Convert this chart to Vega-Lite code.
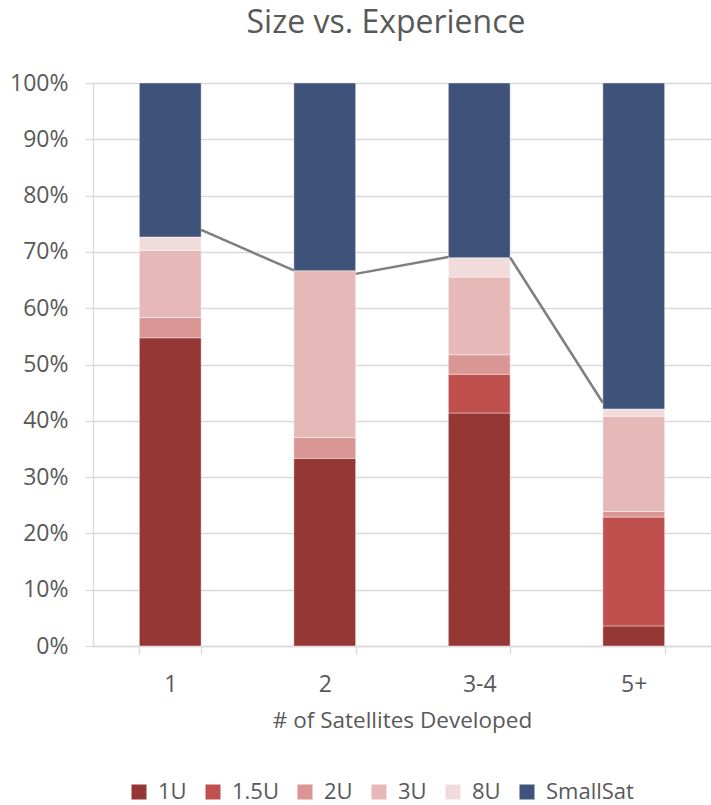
{
  "$schema": "https://vega.github.io/schema/vega-lite/v6.json",
  "autosize": {"type": "none"},
  "padding": {"left": 93, "top": 83, "right": 0, "bottom": 159},
  "width": 618,
  "height": 563,
  "title": {
    "text": "Size vs. Experience",
    "font": "Open Sans",
    "fontSize": 32,
    "fontWeight": "normal",
    "color": "#595959",
    "anchor": "middle",
    "frame": "group",
    "dx": -16,
    "offset": 32
  },
  "datasets": {
    "shares": [
      {"group": "1", "size": "1U", "tier": 1, "share": 0.5475},
      {"group": "1", "size": "2U", "tier": 3, "share": 0.036},
      {"group": "1", "size": "3U", "tier": 4, "share": 0.119},
      {"group": "1", "size": "8U", "tier": 5, "share": 0.024},
      {"group": "1", "size": "SmallSat", "tier": 6, "share": 0.2735},
      {"group": "2", "size": "1U", "tier": 1, "share": 0.3333},
      {"group": "2", "size": "2U", "tier": 3, "share": 0.037},
      {"group": "2", "size": "3U", "tier": 4, "share": 0.2963},
      {"group": "2", "size": "SmallSat", "tier": 6, "share": 0.3334},
      {"group": "3-4", "size": "1U", "tier": 1, "share": 0.4138},
      {"group": "3-4", "size": "1.5U", "tier": 2, "share": 0.069},
      {"group": "3-4", "size": "2U", "tier": 3, "share": 0.0345},
      {"group": "3-4", "size": "3U", "tier": 4, "share": 0.1379},
      {"group": "3-4", "size": "8U", "tier": 5, "share": 0.0345},
      {"group": "3-4", "size": "SmallSat", "tier": 6, "share": 0.3103},
      {"group": "5+", "size": "1U", "tier": 1, "share": 0.0357},
      {"group": "5+", "size": "1.5U", "tier": 2, "share": 0.1933},
      {"group": "5+", "size": "2U", "tier": 3, "share": 0.01},
      {"group": "5+", "size": "3U", "tier": 4, "share": 0.169},
      {"group": "5+", "size": "8U", "tier": 5, "share": 0.013},
      {"group": "5+", "size": "SmallSat", "tier": 6, "share": 0.579}
    ],
    "connectors": [
      {"from": "1", "to": "2", "startShare": 0.739, "endShare": 0.667},
      {"from": "2", "to": "3-4", "startShare": 0.661, "endShare": 0.691},
      {"from": "3-4", "to": "5+", "startShare": 0.69, "endShare": 0.432}
    ]
  },
  "config": {
    "font": "Open Sans",
    "view": {"stroke": null},
    "axis": {
      "labelFont": "Open Sans",
      "titleFont": "Open Sans",
      "labelColor": "#595959",
      "titleColor": "#595959",
      "domainColor": "#D9D9D9",
      "tickColor": "#D9D9D9",
      "gridColor": "#D9D9D9",
      "domainWidth": 1.3,
      "tickWidth": 1.3,
      "gridWidth": 1.3
    },
    "legend": {
      "labelFont": "Open Sans",
      "labelColor": "#595959"
    }
  },
  "layer": [
    {
      "data": {"name": "shares"},
      "mark": {"type": "bar", "stroke": "#ffffff", "strokeWidth": 0.7, "strokeOpacity": 0.6},
      "encoding": {
        "x": {
          "field": "group",
          "type": "nominal",
          "sort": ["1", "2", "3-4", "5+"],
          "scale": {"paddingInner": 0.6, "paddingOuter": 0.3},
          "axis": {
            "title": "# of Satellites Developed",
            "titleFontSize": 22.5,
            "titleFontWeight": "normal",
            "titleBaseline": "alphabetic",
            "titleY": 81,
            "labelAngle": 0,
            "labelFontSize": 23,
            "labelBaseline": "alphabetic",
            "labelPadding": 37,
            "tickSize": 8,
            "tickBand": "extent"
          }
        },
        "y": {
          "field": "share",
          "type": "quantitative",
          "stack": "zero",
          "scale": {"domain": [0, 1], "nice": false},
          "axis": {
            "title": null,
            "format": ".0%",
            "values": [0, 0.1, 0.2, 0.3, 0.4, 0.5, 0.6, 0.7, 0.8, 0.9, 1],
            "labelFontSize": 23,
            "labelPadding": 17,
            "tickSize": 8,
            "grid": true
          }
        },
        "order": {"field": "tier", "type": "quantitative", "sort": "ascending"},
        "color": {
          "field": "size",
          "type": "nominal",
          "scale": {
            "domain": ["1U", "1.5U", "2U", "3U", "8U", "SmallSat"],
            "range": ["#953735", "#C0504D", "#D99694", "#E6B9B8", "#F2DCDB", "#3F5279"]
          },
          "legend": {
            "title": null,
            "orient": "none",
            "direction": "horizontal",
            "legendX": 35,
            "legendY": 698,
            "symbolType": "square",
            "symbolSize": 225,
            "symbolStrokeWidth": 0,
            "labelFontSize": 22,
            "labelOffset": 8,
            "columnPadding": 15
          }
        }
      }
    },
    {
      "data": {"name": "connectors"},
      "mark": {"type": "rule", "color": "#7F7F7F", "strokeWidth": 2.5},
      "encoding": {
        "x": {"field": "from", "type": "nominal", "bandPosition": 1},
        "x2": {"field": "to", "bandPosition": 0},
        "y": {"field": "startShare", "type": "quantitative"},
        "y2": {"field": "endShare"}
      }
    }
  ]
}
